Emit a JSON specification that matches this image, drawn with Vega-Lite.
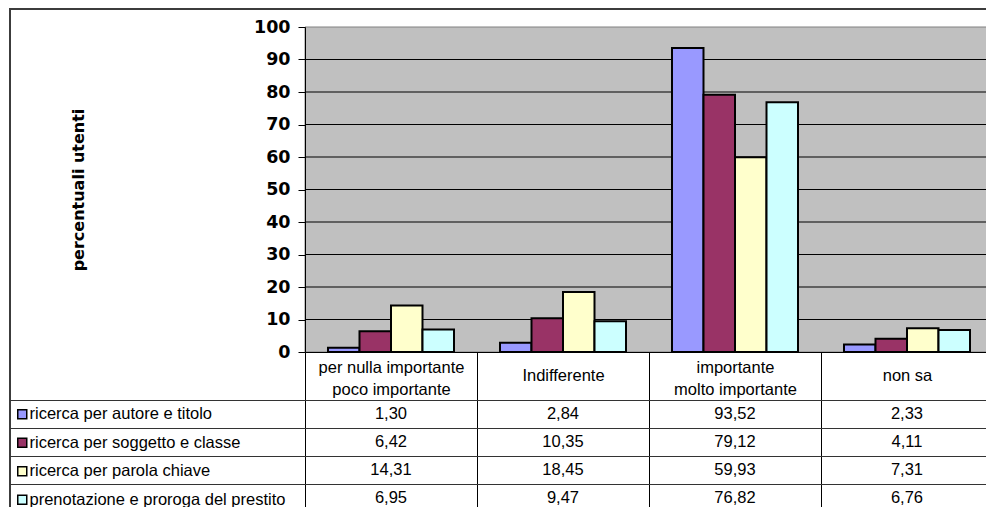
{
  "$schema": "https://vega.github.io/schema/vega-lite/v6.json",
  "width": 990,
  "height": 505,
  "autosize": {"type": "none"},
  "padding": {"left": 10, "top": 9, "right": 0, "bottom": 0},
  "background": "white",
  "config": {
    "view": {"stroke": "#3c3c3c", "strokeWidth": 2},
    "locale": {"number": {"decimal": ",", "thousands": ".", "grouping": [3], "currency": ["", " €"]}},
    "font": "Liberation Sans"
  },
  "datasets": {
    "main": [
      {"cat": "per nulla importante\npoco importante", "series": "ricerca per autore e titolo", "value": 1.30},
      {"cat": "Indifferente", "series": "ricerca per autore e titolo", "value": 2.84},
      {"cat": "importante\nmolto importante", "series": "ricerca per autore e titolo", "value": 93.52},
      {"cat": "non sa", "series": "ricerca per autore e titolo", "value": 2.33},
      {"cat": "per nulla importante\npoco importante", "series": "ricerca per soggetto e classe", "value": 6.42},
      {"cat": "Indifferente", "series": "ricerca per soggetto e classe", "value": 10.35},
      {"cat": "importante\nmolto importante", "series": "ricerca per soggetto e classe", "value": 79.12},
      {"cat": "non sa", "series": "ricerca per soggetto e classe", "value": 4.11},
      {"cat": "per nulla importante\npoco importante", "series": "ricerca per parola chiave", "value": 14.31},
      {"cat": "Indifferente", "series": "ricerca per parola chiave", "value": 18.45},
      {"cat": "importante\nmolto importante", "series": "ricerca per parola chiave", "value": 59.93},
      {"cat": "non sa", "series": "ricerca per parola chiave", "value": 7.31},
      {"cat": "per nulla importante\npoco importante", "series": "prenotazione e proroga del prestito", "value": 6.95},
      {"cat": "Indifferente", "series": "prenotazione e proroga del prestito", "value": 9.47},
      {"cat": "importante\nmolto importante", "series": "prenotazione e proroga del prestito", "value": 76.82},
      {"cat": "non sa", "series": "prenotazione e proroga del prestito", "value": 6.76}
    ],
    "grid": [{"g": 10}, {"g": 20}, {"g": 30}, {"g": 40}, {"g": 50}, {"g": 60}, {"g": 70}, {"g": 80}, {"g": 90}]
  },
  "layer": [
    {
      "data": {"values": [{"k": 1}]},
      "mark": {"type": "rect", "fill": "#C0C0C0", "stroke": "#808080", "strokeWidth": 1},
      "encoding": {
        "x": {"datum": 0, "type": "quantitative", "scale": {"domain": [0, 4], "range": [295, 983], "nice": false, "zero": false}, "axis": null},
        "x2": {"datum": 4},
        "y": {"datum": 0, "type": "quantitative", "scale": {"domain": [0, 100], "range": [343, 18], "nice": false}, "axis": null},
        "y2": {"datum": 100}
      }
    },
    {
      "data": {"name": "grid"},
      "mark": {"type": "rule", "color": "black", "strokeWidth": 1},
      "encoding": {
        "x": {"datum": 0, "type": "quantitative", "scale": {"domain": [0, 4], "range": [295, 983], "nice": false, "zero": false}, "axis": null},
        "x2": {"datum": 4},
        "y": {"field": "g", "type": "quantitative", "scale": {"domain": [0, 100], "range": [343, 18], "nice": false}, "axis": null}
      }
    },
    {
      "data": {"name": "main"},
      "mark": {"type": "bar", "stroke": "black", "strokeWidth": 2},
      "encoding": {
        "x": {
          "field": "cat", "type": "nominal",
          "scale": {"domain": ["per nulla importante\npoco importante", "Indifferente", "importante\nmolto importante", "non sa"], "range": [295, 983], "paddingInner": 0, "paddingOuter": 0},
          "axis": {
            "orient": "bottom", "offset": -162, "title": null,
            "domain": true, "domainColor": "black", "domainWidth": 1,
            "ticks": true, "tickBand": "extent", "tickSize": 162, "tickColor": "black", "tickWidth": 1,
            "labelExpr": "split(datum.label, '\\n')",
            "labelFont": "Liberation Sans", "labelFontSize": 16.5, "labelColor": "black",
            "labelPadding": -139,
            "labelBaseline": {"condition": {"test": "datum.value == 'Indifferente' || datum.value == 'non sa'", "value": "middle"}, "value": "bottom"},
            "labelLineHeight": 22,
            "labelAngle": 0, "labelOverlap": false, "labelLimit": 0, "labelBound": false,
            "grid": false, "zindex": 1
          }
        },
        "xOffset": {
          "field": "series", "type": "nominal",
          "scale": {"domain": ["ricerca per autore e titolo", "ricerca per soggetto e classe", "ricerca per parola chiave", "prenotazione e proroga del prestito"], "paddingInner": 0, "paddingOuter": 0.73}
        },
        "y": {
          "field": "value", "type": "quantitative",
          "scale": {"domain": [0, 100], "range": [343, 18], "nice": false},
          "axis": {
            "orient": "left", "offset": -295,
            "values": [0, 10, 20, 30, 40, 50, 60, 70, 80, 90, 100],
            "grid": false, "domain": true, "domainColor": "black", "domainWidth": 1,
            "ticks": true, "tickSize": 7, "tickColor": "black", "tickWidth": 1,
            "labelFont": "DejaVu Sans", "labelFontWeight": "bold", "labelFontSize": 17.5, "labelColor": "black", "labelPadding": 8,
            "title": "percentuali utenti", "titleFont": "DejaVu Sans", "titleFontWeight": "bold", "titleFontSize": 16, "titleColor": "black",
            "titleX": -222, "titleY": 180.5, "titleAngle": -90, "titleBaseline": "alphabetic", "titleAlign": "center",
            "zindex": 1
          }
        },
        "color": {
          "field": "series", "type": "nominal",
          "scale": {"domain": ["ricerca per autore e titolo", "ricerca per soggetto e classe", "ricerca per parola chiave", "prenotazione e proroga del prestito"], "range": ["#9999FF", "#993366", "#FFFFCC", "#CCFFFF"]},
          "legend": {
            "orient": "none", "legendX": 4, "legendY": 397, "direction": "vertical", "title": null,
            "symbolType": "square", "symbolSize": 81,
            "symbolStrokeColor": "black", "symbolStrokeWidth": 1.5, "symbolOpacity": 1,
            "labelExpr": "(datum.label == 'prenotazione e proroga del prestito' ? '\u00a0 ' : '') + datum.label",
            "labelFont": "Liberation Sans", "labelFontSize": 16.5, "labelColor": "black", "labelOffset": -1, "labelLimit": 0,
            "rowPadding": 11.5, "padding": 0
          }
        }
      }
    },
    {
      "data": {"name": "main"},
      "mark": {"type": "text", "font": "Liberation Sans", "fontSize": 16.5, "color": "black", "baseline": "middle", "align": "center"},
      "encoding": {
        "x": {
          "field": "cat", "type": "nominal",
          "scale": {"domain": ["per nulla importante\npoco importante", "Indifferente", "importante\nmolto importante", "non sa"], "range": [295, 983], "paddingInner": 0, "paddingOuter": 0},
          "axis": null
        },
        "y": {
          "field": "series", "type": "nominal",
          "scale": {"domain": ["ricerca per autore e titolo", "ricerca per soggetto e classe", "ricerca per parola chiave", "prenotazione e proroga del prestito"], "range": [391, 503], "paddingInner": 0, "paddingOuter": 0},
          "axis": {
            "orient": "left", "offset": -983, "title": null,
            "domain": false, "labels": false, "grid": false,
            "ticks": true, "tickBand": "extent", "tickSize": 983, "tickColor": "#333333", "tickWidth": 1,
            "zindex": 1
          }
        },
        "text": {"field": "value", "type": "quantitative", "format": ".2f"}
      }
    }
  ],
  "resolve": {
    "scale": {"x": "independent", "y": "independent"},
    "axis": {"x": "independent", "y": "independent"}
  }
}
